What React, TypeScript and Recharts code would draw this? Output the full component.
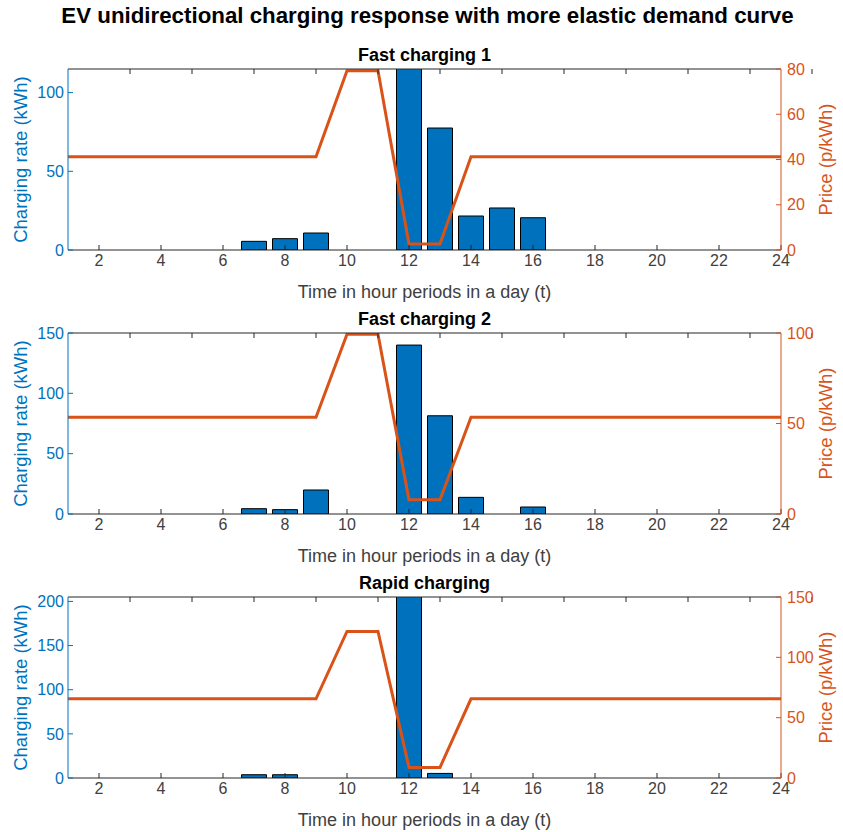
import { ComposedChart, Bar, Line, XAxis, YAxis } from "recharts";

const BLUE = "#0072BD";
const ORANGE = "#D95319";
const AXIS = "#262626";
const FONT = "'Liberation Sans', Arial, sans-serif";

const HOURS = [1, 2, 3, 4, 5, 6, 7, 8, 9, 10, 11, 12, 13, 14, 15, 16, 17, 18, 19, 20, 21, 22, 23, 24];
const HOUR_TICKS = [2, 4, 6, 8, 10, 12, 14, 16, 18, 20, 22, 24];

// charging rate (kWh) per hour; hour 12 goes off the top in panels 1 and 3
const FAST1_CHARGE = [0, 0, 0, 0, 0, 0, 5.5, 7.2, 10.8, 0, 0, 170, 77.5, 21.6, 26.7, 20.5, 0, 0, 0, 0, 0, 0, 0, 0];
const FAST2_CHARGE = [0, 0, 0, 0, 0, 0, 4.4, 3.6, 19.9, 0, 0, 140, 81.4, 13.8, 0, 5.8, 0, 0, 0, 0, 0, 0, 0, 0];
const RAPID_CHARGE = [0, 0, 0, 0, 0, 0, 3.7, 3.7, 0, 0, 0, 260, 5.2, 0, 0, 0, 0, 0, 0, 0, 0, 0, 0, 0];

// price (p/kWh) per hour
const FAST1_PRICE = [41.2, 41.2, 41.2, 41.2, 41.2, 41.2, 41.2, 41.2, 41.2, 79.2, 79.2, 2.7, 2.7, 41.2, 41.2, 41.2, 41.2, 41.2, 41.2, 41.2, 41.2, 41.2, 41.2, 41.2];
const FAST2_PRICE = [53.5, 53.5, 53.5, 53.5, 53.5, 53.5, 53.5, 53.5, 53.5, 99.3, 99.3, 7.9, 7.9, 53.5, 53.5, 53.5, 53.5, 53.5, 53.5, 53.5, 53.5, 53.5, 53.5, 53.5];
const RAPID_PRICE = [65.6, 65.6, 65.6, 65.6, 65.6, 65.6, 65.6, 65.6, 65.6, 121.5, 121.5, 8.8, 8.8, 65.6, 65.6, 65.6, 65.6, 65.6, 65.6, 65.6, 65.6, 65.6, 65.6, 65.6];

type PanelProps = {
  title: string;
  charge: number[];
  price: number[];
  leftMax: number;
  leftTicks: number[];
  rightMax: number;
  rightTicks: number[];
  top: number;
};

function Panel({ title, charge, price, leftMax, leftTicks, rightMax, rightTicks, top }: PanelProps) {
  const data = HOURS.map((h, i) => ({ hour: h, charge: charge[i], price: price[i] }));

  return (
    <div style={{ position: "absolute", left: 0, top, width: 843, height: 264 }}>
      <svg width={843} height={28} style={{ position: "absolute", left: 0, top: 0 }}>
        <text x={424.5} y={21} textAnchor="middle" fontFamily={FONT} fontSize={18} fontWeight="bold" fill="#000">
          {title}
        </text>
      </svg>
      <ComposedChart width={843} height={264} data={data} margin={{ top: 28, right: 0, bottom: 0, left: 0 }}>
        <XAxis
          xAxisId="b"
          dataKey="hour"
          type="number"
          domain={[1, 24]}
          ticks={HOUR_TICKS}
          allowDataOverflow
          height={54}
          stroke={AXIS}
          tickSize={-5}
          tickMargin={10}
          tick={{ fill: "#404040", fontSize: 16, fontFamily: FONT }}
          label={{
            value: "Time in hour periods in a day (t)",
            position: "insideBottom",
            offset: 6,
            style: { fill: "#404040", fontSize: 18, fontFamily: FONT }
          }}
        />
        <XAxis
          xAxisId="t"
          orientation="top"
          type="number"
          domain={[1, 24]}
          ticks={HOUR_TICKS}
          allowDataOverflow
          height={1}
          stroke={AXIS}
          tickSize={-5}
          tickFormatter={() => ""}
        />
        <YAxis
          yAxisId="l"
          width={68}
          domain={[0, leftMax]}
          ticks={leftTicks}
          allowDataOverflow
          stroke={BLUE}
          tickSize={-5}
          tickMargin={9}
          tick={{ fill: BLUE, fontSize: 16, fontFamily: FONT }}
          label={{
            value: "Charging rate (kWh)",
            angle: -90,
            position: "insideLeft",
            offset: 20,
            style: { fill: BLUE, fontSize: 18.5, fontFamily: FONT, textAnchor: "middle" }
          }}
        />
        <YAxis
          yAxisId="r"
          orientation="right"
          width={62}
          domain={[0, rightMax]}
          ticks={rightTicks}
          allowDataOverflow
          stroke={ORANGE}
          tickSize={-5}
          tickMargin={11}
          tick={{ fill: ORANGE, fontSize: 16, fontFamily: FONT }}
          label={{
            value: "Price (p/kWh)",
            angle: -90,
            position: "insideRight",
            offset: 18,
            style: { fill: ORANGE, fontSize: 18.5, fontFamily: FONT, textAnchor: "middle" }
          }}
        />
        <Bar
          xAxisId="b"
          yAxisId="l"
          dataKey="charge"
          barSize={25}
          fill={BLUE}
          stroke="#000"
          strokeWidth={1}
          isAnimationActive={false}
        />
        <Line
          xAxisId="b"
          yAxisId="r"
          type="linear"
          dataKey="price"
          stroke={ORANGE}
          strokeWidth={3}
          dot={false}
          isAnimationActive={false}
        />
      </ComposedChart>
    </div>
  );
}

export default function App() {
  return (
    <div style={{ position: "absolute", left: 0, top: 0, width: 843, height: 832, background: "#fff" }}>
      <svg width={843} height={40} style={{ position: "absolute", left: 0, top: 0 }}>
        <text x={427.5} y={23} textAnchor="middle" fontFamily={FONT} fontSize={22.3} fontWeight="bold" fill="#000">
          EV unidirectional charging response with more elastic demand curve
        </text>
      </svg>
      <Panel
        title="Fast charging 1"
        charge={FAST1_CHARGE}
        price={FAST1_PRICE}
        leftMax={115}
        leftTicks={[0, 50, 100]}
        rightMax={80}
        rightTicks={[0, 20, 40, 60, 80]}
        top={40}
      />
      <Panel
        title="Fast charging 2"
        charge={FAST2_CHARGE}
        price={FAST2_PRICE}
        leftMax={150}
        leftTicks={[0, 50, 100, 150]}
        rightMax={100}
        rightTicks={[0, 50, 100]}
        top={304}
      />
      <Panel
        title="Rapid charging"
        charge={RAPID_CHARGE}
        price={RAPID_PRICE}
        leftMax={205}
        leftTicks={[0, 50, 100, 150, 200]}
        rightMax={150}
        rightTicks={[0, 50, 100, 150]}
        top={568}
      />
    </div>
  );
}
